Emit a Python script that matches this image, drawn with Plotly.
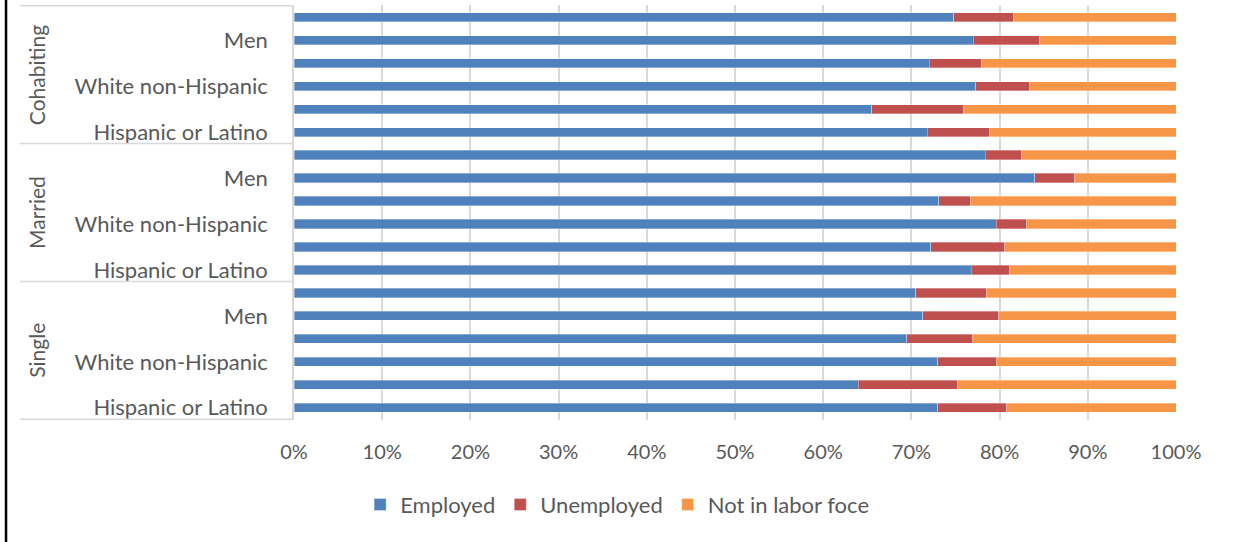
import plotly.graph_objects as go

groups = ["Cohabiting", "Married", "Single"]
subgroups = ["Total", "Men", "Women", "White non-Hispanic", "Black non-Hispanic", "Hispanic or Latino"]
shown_subgroups = ["Men", "White non-Hispanic", "Hispanic or Latino"]

employed = [74.8, 77.0, 72.0, 77.3, 65.5, 71.8,
            78.4, 84.0, 73.1, 79.6, 72.2, 76.8,
            70.5, 71.3, 69.5, 73.0, 64.0, 73.0]
unemployed = [6.8, 7.5, 5.9, 6.1, 10.4, 7.0,
              4.1, 4.5, 3.6, 3.4, 8.4, 4.3,
              8.0, 8.6, 7.4, 6.6, 11.2, 7.8]
not_in_lf = [18.4, 15.5, 22.1, 16.6, 24.1, 21.2,
             17.5, 11.5, 23.3, 17.0, 19.4, 18.9,
             21.5, 20.1, 23.1, 20.4, 24.8, 19.2]

series_names = ["Employed", "Unemployed", "Not in labor foce"]
colors = ["#4F81BD", "#C0504D", "#F79646"]
x_ticks = [0, 10, 20, 30, 40, 50, 60, 70, 80, 90, 100]

cats = [f"{g} | {s}" for g in groups for s in subgroups]
tick_text = [s if s in shown_subgroups else "" for g in groups for s in subgroups]

FONT = "Lato, Carlito, Calibri, sans-serif"
TXT = "#595959"
GRID = "#D9D9D9"

fig = go.Figure()
for name, vals, col in zip(series_names, [employed, unemployed, not_in_lf], colors):
    fig.add_trace(go.Bar(
        y=cats, x=vals, name=name, orientation="h",
        marker=dict(color=col, line=dict(color="rgba(255,255,255,0.55)", width=0.6)),
    ))

fig.update_layout(
    barmode="stack",
    bargap=0.6,
    width=1243, height=542,
    margin=dict(l=294, r=67, t=5, b=122),
    paper_bgcolor="white", plot_bgcolor="white",
    font=dict(family=FONT, size=20, color=TXT),
    showlegend=True,
    legend=dict(orientation="h", x=0.075, xanchor="left", y=-0.204, yanchor="middle",
                font=dict(family=FONT, size=22, color=TXT), traceorder="normal",
                itemwidth=30, tracegroupgap=0),
)
fig.update_xaxes(
    range=[0, 100], tickvals=x_ticks, ticktext=[f"{v}%" for v in x_ticks],
    showgrid=True, gridcolor=GRID, gridwidth=1.5, zeroline=False,
    showline=False, ticks="", ticklabelstandoff=18,
    tickfont=dict(family=FONT, size=20, color=TXT),
)
fig.update_yaxes(
    type="category", categoryorder="array", categoryarray=cats,
    autorange="reversed", tickvals=cats, ticktext=tick_text,
    showgrid=False, showline=True, linecolor=GRID, linewidth=1.5,
    ticks="", ticklabelstandoff=20,
    tickfont=dict(family=FONT, size=22, color=TXT),
)

# group separators on the category axis
n_sub = len(subgroups)
for k in range(len(groups) + 1):
    yv = k * n_sub - 0.5
    fig.add_shape(type="line", xref="paper", yref="y", x0=-0.311, x1=0, y0=yv, y1=yv,
                  line=dict(color=GRID, width=1.5))
# group labels
for k, g in enumerate(groups):
    fig.add_annotation(xref="paper", yref="y", x=-0.292, y=k * n_sub + (n_sub - 1) / 2,
                       text=g, textangle=-90, showarrow=False, xanchor="center", yanchor="middle",
                       font=dict(family=FONT, size=21, color=TXT))
# page border line at far left
fig.add_shape(type="line", xref="paper", yref="paper", x0=-0.3265, x1=-0.3265, y0=-0.3, y1=1.02,
              line=dict(color="black", width=2.5))

fig.write_html("out.html", config={"displayModeBar": False},
               post_script="document.body.style.margin='0';")
